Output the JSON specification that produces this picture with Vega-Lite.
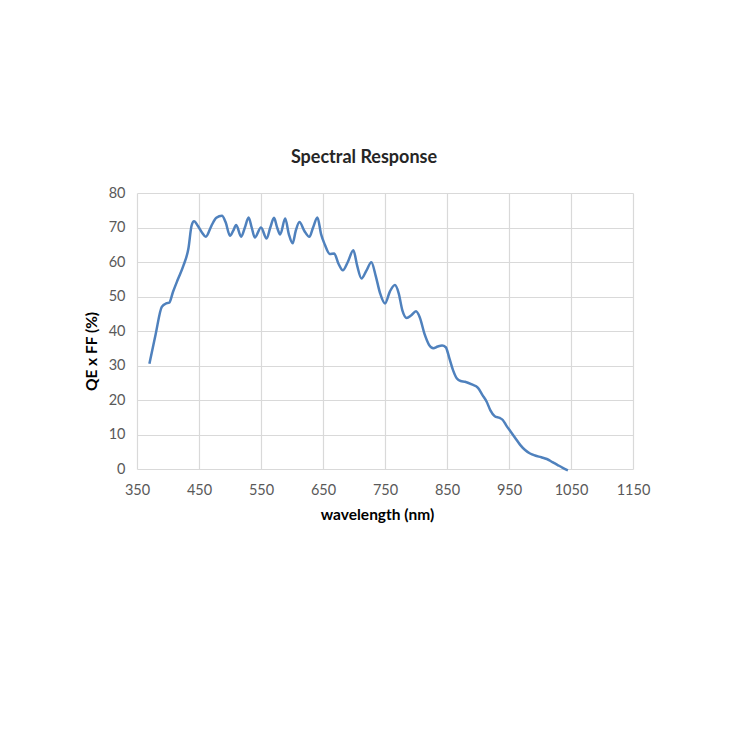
{
  "$schema": "https://vega.github.io/schema/vega-lite/v6.json",
  "autosize": {"type": "none"},
  "width": 496,
  "height": 276,
  "padding": {"left": 137, "top": 193, "right": 117, "bottom": 281},
  "background": "white",
  "title": {"text": "Spectral Response", "fontSize": 18, "font": "Lato", "fontWeight": "bold", "color": "#262626", "offset": 18, "dx": -21},
  "data": {"values": [
    {"wl": 370, "qe": 30.5}, {"wl": 380, "qe": 39}, {"wl": 390, "qe": 47}, {"wl": 397, "qe": 48}, {"wl": 402, "qe": 48.2},
    {"wl": 408, "qe": 51.3}, {"wl": 416, "qe": 55}, {"wl": 425, "qe": 59}, {"wl": 433, "qe": 64}, {"wl": 438, "qe": 70.5},
    {"wl": 442, "qe": 71.8}, {"wl": 448, "qe": 70.5}, {"wl": 455, "qe": 68.5}, {"wl": 461, "qe": 67.3}, {"wl": 470, "qe": 70.5},
    {"wl": 478, "qe": 72.8}, {"wl": 487, "qe": 73.4}, {"wl": 493, "qe": 71.5}, {"wl": 500, "qe": 67.6}, {"wl": 505, "qe": 69},
    {"wl": 510, "qe": 70.7}, {"wl": 518, "qe": 67.3}, {"wl": 524, "qe": 70}, {"wl": 530, "qe": 72.9}, {"wl": 535, "qe": 70},
    {"wl": 540, "qe": 67.1}, {"wl": 550, "qe": 70}, {"wl": 559, "qe": 66.8}, {"wl": 565, "qe": 70}, {"wl": 571, "qe": 72.8},
    {"wl": 576, "qe": 70}, {"wl": 581, "qe": 68}, {"wl": 589, "qe": 72.6}, {"wl": 595, "qe": 68}, {"wl": 601, "qe": 65.4},
    {"wl": 606, "qe": 69}, {"wl": 612, "qe": 71.6}, {"wl": 620, "qe": 69}, {"wl": 628, "qe": 67.3}, {"wl": 634, "qe": 70},
    {"wl": 641, "qe": 72.9}, {"wl": 647, "qe": 68}, {"wl": 653, "qe": 65}, {"wl": 661, "qe": 62.3}, {"wl": 668, "qe": 62.5},
    {"wl": 675, "qe": 59.5}, {"wl": 682, "qe": 57.6}, {"wl": 690, "qe": 60}, {"wl": 699, "qe": 63.4}, {"wl": 705, "qe": 59},
    {"wl": 712, "qe": 55.2}, {"wl": 720, "qe": 57.5}, {"wl": 728, "qe": 59.9}, {"wl": 735, "qe": 56}, {"wl": 742, "qe": 51},
    {"wl": 750, "qe": 48}, {"wl": 758, "qe": 51.5}, {"wl": 766, "qe": 53.3}, {"wl": 772, "qe": 51}, {"wl": 778, "qe": 46},
    {"wl": 785, "qe": 43.8}, {"wl": 792, "qe": 44.5}, {"wl": 800, "qe": 45.7}, {"wl": 806, "qe": 44}, {"wl": 814, "qe": 39},
    {"wl": 821, "qe": 36}, {"wl": 828, "qe": 35}, {"wl": 835, "qe": 35.5}, {"wl": 842, "qe": 35.8}, {"wl": 848, "qe": 35.3},
    {"wl": 854, "qe": 32}, {"wl": 860, "qe": 28.5}, {"wl": 866, "qe": 26.2}, {"wl": 872, "qe": 25.5}, {"wl": 879, "qe": 25.3},
    {"wl": 890, "qe": 24.5}, {"wl": 900, "qe": 23.5}, {"wl": 907, "qe": 21.5}, {"wl": 914, "qe": 19.5}, {"wl": 920, "qe": 17},
    {"wl": 927, "qe": 15.3}, {"wl": 935, "qe": 14.8}, {"wl": 940, "qe": 14.2}, {"wl": 946, "qe": 12.5}, {"wl": 952, "qe": 11},
    {"wl": 960, "qe": 9}, {"wl": 968, "qe": 7}, {"wl": 976, "qe": 5.5}, {"wl": 984, "qe": 4.5}, {"wl": 992, "qe": 3.9},
    {"wl": 1002, "qe": 3.4}, {"wl": 1011, "qe": 2.9}, {"wl": 1020, "qe": 2}, {"wl": 1028, "qe": 1.2}, {"wl": 1036, "qe": 0.4},
    {"wl": 1045, "qe": -0.4}
  ]},
  "mark": {"type": "line", "interpolate": "monotone", "color": "#4f81bd", "strokeWidth": 2.5},
  "encoding": {
    "x": {"field": "wl", "type": "quantitative", "title": "wavelength (nm)",
      "scale": {"domain": [350, 1150], "nice": false},
      "axis": {"values": [350, 450, 550, 650, 750, 850, 950, 1050, 1150], "format": "d", "labelFlush": false, "labelPadding": 14, "titlePadding": 11, "titleX": 240}},
    "y": {"field": "qe", "type": "quantitative", "title": "QE x FF (%)",
      "scale": {"domain": [0, 80], "nice": false},
      "axis": {"values": [0, 10, 20, 30, 40, 50, 60, 70, 80], "format": "d", "labelPadding": 12, "titlePadding": 9, "titleY": 158}}
  },
  "config": {
    "view": {"stroke": null},
    "axis": {
      "domain": false, "ticks": false, "gridColor": "#d9d9d9", "gridWidth": 1.2,
      "labelFont": "Lato", "labelFontSize": 14.5, "labelColor": "#595959",
      "titleFont": "Lato", "titleFontSize": 15.5, "titleFontWeight": "bold", "titleColor": "#000000"
    }
  }
}
